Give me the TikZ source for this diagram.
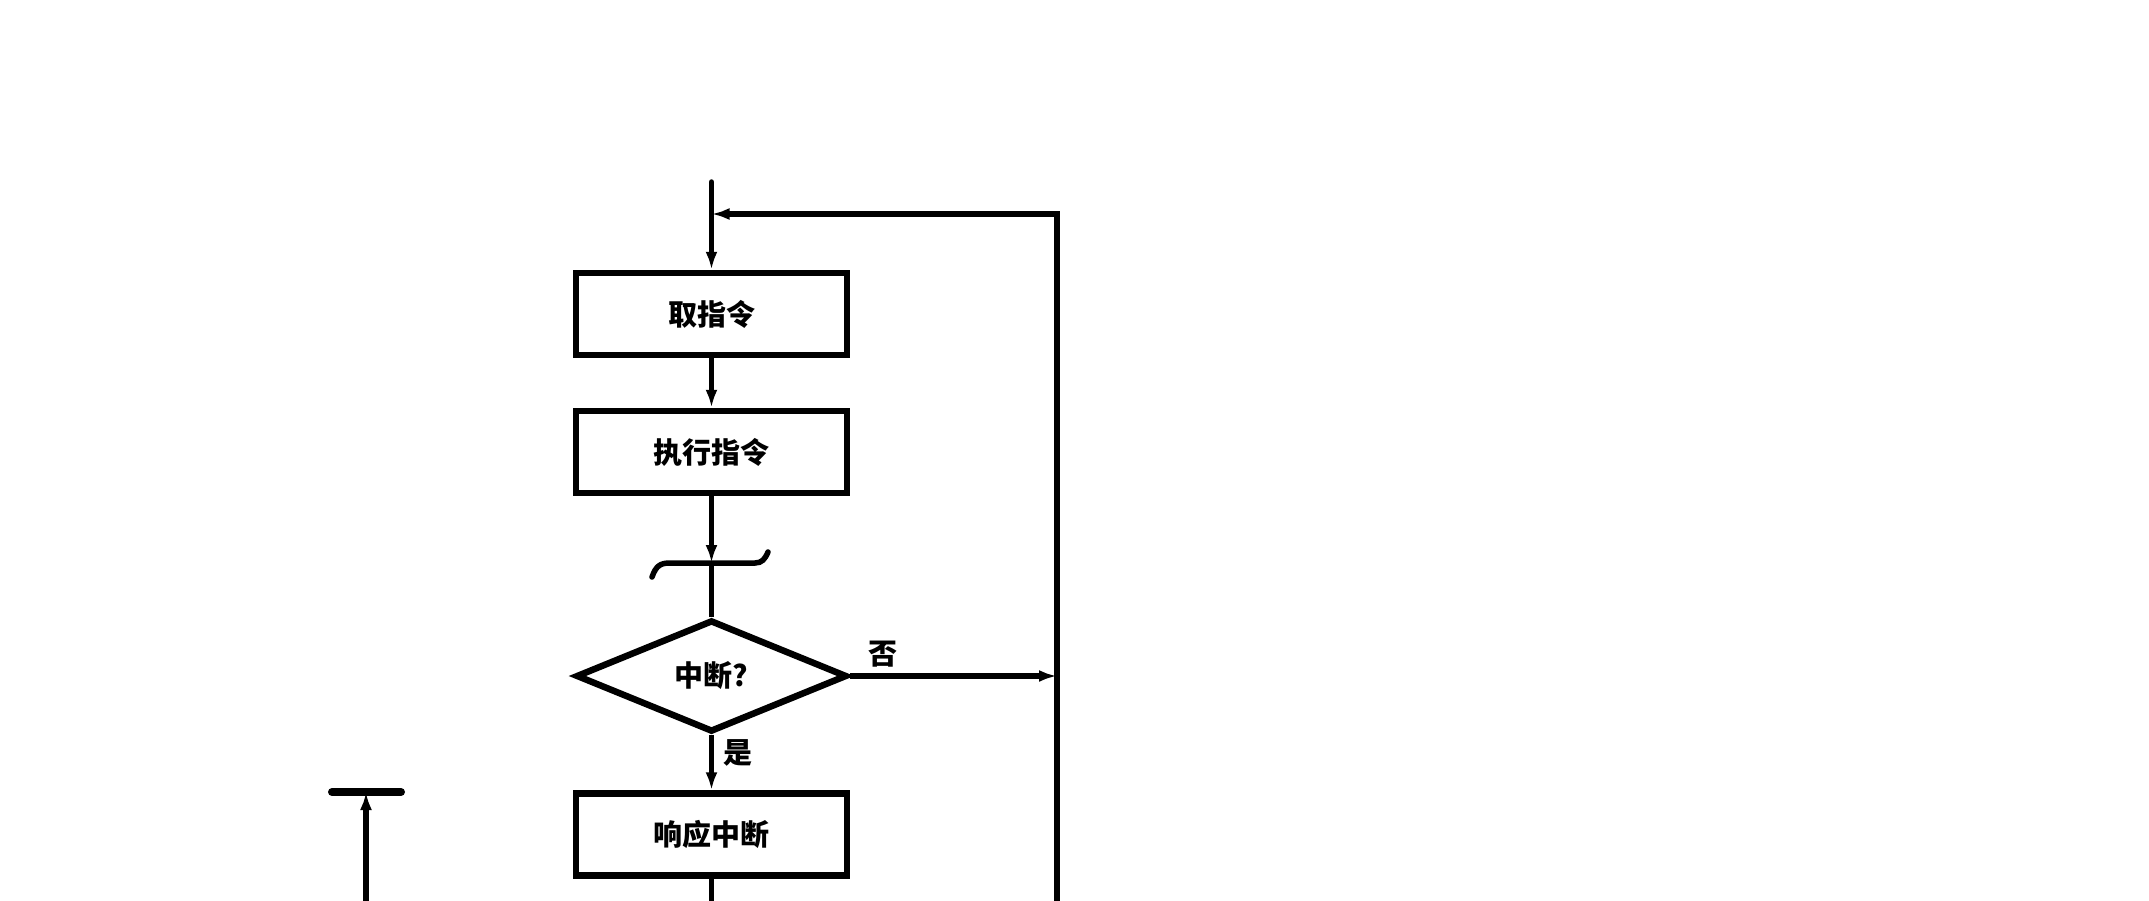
\documentclass[tikz,border=0pt]{standalone}
\usepackage{fontspec}
\newfontfamily\cjk{Noto Sans CJK SC Black}
\usetikzlibrary{arrows.meta,shapes.geometric}
\begin{document}
\begin{tikzpicture}[x=1pt,y=-1pt,
  txt/.style={font=\cjk\fontsize{29}{33}\selectfont},
  box/.style={txt,draw,line width=6.5pt,minimum width=271pt,minimum height=82pt,inner sep=0pt},
  dia/.style={txt,draw,diamond,aspect=2.4,line width=6.5pt,minimum width=271pt,minimum height=112pt,inner sep=0pt},
  conn/.style={line width=5.5pt},
  arr/.style={conn,-{Latex[length=18pt,width=12pt]}},
  lbl/.style={txt,inner sep=0pt}]
\useasboundingbox (0,0) rectangle (2149,900);
\node[box] (b1) at (711.5,314) {取指令};
\node[box] (b2) at (711.5,452) {执行指令};
\node[dia] (d) at (711.5,676) {中断?};
\node[box] (b3) at (711.5,834.5) {响应中断};
\coordinate (top) at (711.5,182);
\coordinate (j) at (711.5,214);
\coordinate (rc) at (1057,214);
\coordinate (rb) at (1057,902);
\coordinate (rm) at (1057,676);
\coordinate (brk) at (711.5,563);
\coordinate (mb) at (711.5,902);
\coordinate (lb) at (366,902);
\coordinate (lt) at (366,792);
\coordinate (bl) at (332,792);
\coordinate (br) at (401,792);
% main flow
\draw[arr,line cap=round] (top) -- (b1.north);
\draw[arr] (b1.south) -- (b2.north);
\draw[arr] (b2.south) -- (brk);
\draw[conn] (brk) -- (d.north);
\draw[arr] (d.south) -- (b3.north);
\draw[conn] (b3.south) -- (mb);
% break mark
\draw[line width=5.5pt,line cap=round] (652,577) .. controls (656,566) and (660,563) .. (670,563) -- (755,563) .. controls (762,563) and (765,559) .. (768,552);
% feedback loop
\draw[arr] (rb) -- (rc) -- (j);
\draw[arr] (d.east) -- (rm);
% labels
\node[lbl] (no) at (883,654) {否};
\node[lbl] (yes) at (738,753) {是};
% left stub
\draw[arr] (lb) -- (lt);
\draw[line width=8pt,line cap=round] (bl) -- (br);
\end{tikzpicture}
\end{document}
